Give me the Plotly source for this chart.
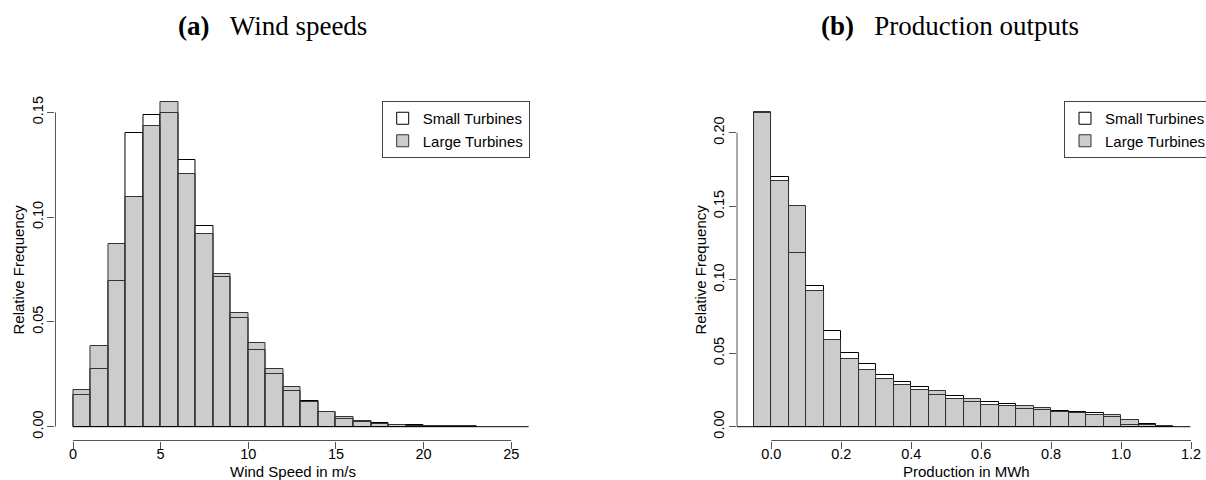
import plotly.graph_objects as go

W, H = 1206, 480

# ---------------- data ----------------
wind_bin_left = [0, 1, 2, 3, 4, 5, 6, 7, 8, 9, 10, 11, 12, 13, 14, 15, 16, 17, 18, 19, 20, 21, 22]
wind_bin_width = 1.0
wind_small = [0.0151, 0.0277, 0.0693, 0.1400, 0.1487, 0.1495, 0.1274, 0.0959, 0.0713, 0.0519, 0.0367,
              0.0251, 0.0169, 0.0121, 0.0072, 0.0035, 0.0021, 0.0016, 0.0010, 0.0006, 0.0004, 0.0003, 0.0002]
wind_large = [0.0175, 0.0387, 0.0872, 0.1098, 0.1433, 0.1551, 0.1204, 0.0918, 0.0727, 0.0541, 0.0399,
              0.0277, 0.0188, 0.0118, 0.0070, 0.0045, 0.0027, 0.0013, 0.0008, 0.0005, 0.0004, 0.0003, 0.0001]
wind_xticks = [0, 5, 10, 15, 20, 25]
wind_xtick_text = ["0", "5", "10", "15", "20", "25"]
wind_yticks = [0.0, 0.05, 0.10, 0.15]
wind_ytick_text = ["0.00", "0.05", "0.10", "0.15"]

prod_bin_left = [-0.05, 0.00, 0.05, 0.10, 0.15, 0.20, 0.25, 0.30, 0.35, 0.40, 0.45, 0.50,
                 0.55, 0.60, 0.65, 0.70, 0.75, 0.80, 0.85, 0.90, 0.95, 1.00, 1.05, 1.10]
prod_bin_width = 0.05
prod_small = [0.2132, 0.1701, 0.1179, 0.0955, 0.0653, 0.0503, 0.0424, 0.0354, 0.0302, 0.0270, 0.0215, 0.0209,
              0.0170, 0.0166, 0.0152, 0.0120, 0.0113, 0.0109, 0.0098, 0.0093, 0.0068, 0.0014, 0.0016, 0.0001]
prod_large = [0.2138, 0.1673, 0.1503, 0.0921, 0.0587, 0.0463, 0.0383, 0.0324, 0.0286, 0.0249, 0.0240, 0.0186,
              0.0188, 0.0147, 0.0138, 0.0138, 0.0127, 0.0102, 0.0091, 0.0077, 0.0077, 0.0043, 0.0012, 0.0004]
prod_xticks = [0.0, 0.2, 0.4, 0.6, 0.8, 1.0, 1.2]
prod_xtick_text = ["0.0", "0.2", "0.4", "0.6", "0.8", "1.0", "1.2"]
prod_yticks = [0.0, 0.05, 0.10, 0.15, 0.20]
prod_ytick_text = ["0.00", "0.05", "0.10", "0.15", "0.20"]

series_names = ["Small Turbines", "Large Turbines"]
titles = ["<b>(a)</b>\u00a0\u00a0\u00a0Wind speeds", "<b>(b)</b>\u00a0\u00a0\u00a0Production outputs"]
xlabels = ["Wind Speed in m/s", "Production in MWh"]
ylabel = "Relative Frequency"

# ---------------- layout constants (pixels) ----------------
SANS = "Liberation Sans, Arial, sans-serif"
SERIF = "Liberation Serif, Times New Roman, serif"
AXC = "#555555"
TICK_SIZE = 14.5

def px_x(p):
    return p / W

def px_y(p):
    return 1 - p / H

plot_top_px, plot_bot_px, zero_px = 95.0, 440.5, 426.7
# left panel
L_x0, L_xscale = 73.0, 17.53          # pixel of x=0, px per unit
L_yscale = (426.7 - 112.3) / 0.15
L_xrange = [-1.0, 26.0]
# right panel
R_x0, R_xscale = 771.3, 349.75
R_yscale = (426.7 - 132.7) / 0.20
R_xrange = [-0.098, 1.2005]

def yr(scale):
    return [(zero_px - plot_bot_px) / scale, (zero_px - plot_top_px) / scale]

fig = go.Figure()

def add_hist(bin_left, width, small, large, xa, ya, legend):
    centers = [b + width / 2 for b in bin_left]
    fig.add_trace(go.Bar(x=centers, y=small, width=width, name=series_names[0],
                         marker=dict(color="white", line=dict(color="black", width=1)),
                         xaxis=xa, yaxis=ya, legend=legend))
    fig.add_trace(go.Bar(x=centers, y=large, width=width, name=series_names[1],
                         marker=dict(color="rgba(128,128,128,0.4)", line=dict(color="#333333", width=1)),
                         xaxis=xa, yaxis=ya, legend=legend))

add_hist(wind_bin_left, wind_bin_width, wind_small, wind_large, "x", "y", "legend")
add_hist(prod_bin_left, prod_bin_width, prod_small, prod_large, "x2", "y2", "legend2")

def xaxis(domain, rng, tv, tt, anchor):
    return dict(domain=domain, range=rng, tickvals=tv, ticktext=tt, ticks="outside", ticklen=7,
                tickcolor=AXC, tickwidth=1, showline=False, showgrid=False, zeroline=False,
                ticklabelstandoff=-7,
                tickfont=dict(family=SANS, size=TICK_SIZE, color="black"), anchor=anchor, fixedrange=True)

def yaxis(domain, rng, tv, tt, anchor):
    return dict(domain=domain, range=rng, tickvals=tv, ticktext=tt, ticks="outside", ticklen=7,
                tickcolor=AXC, tickwidth=1, showline=False, showgrid=False, zeroline=False,
                ticklabelstandoff=-1,
                tickangle=-90, tickfont=dict(family=SANS, size=TICK_SIZE, color="black"), anchor=anchor,
                fixedrange=True)

L_dom = [px_x(L_x0 + L_xrange[0] * L_xscale), px_x(L_x0 + L_xrange[1] * L_xscale)]
R_dom = [px_x(R_x0 + R_xrange[0] * R_xscale), px_x(R_x0 + R_xrange[1] * R_xscale)]
Y_dom = [px_y(plot_bot_px), px_y(plot_top_px)]

shapes = []
def axis_lines(xref, yref, xticks, yticks, base_x0, base_x1):
    # x axis line
    shapes.append(dict(type="line", xref=xref, yref=yref + " domain", x0=xticks[0], x1=xticks[-1],
                       y0=0, y1=0, line=dict(color=AXC, width=1)))
    # y axis line
    shapes.append(dict(type="line", xref=xref + " domain", yref=yref, x0=0, x1=0,
                       y0=yticks[0], y1=yticks[-1], line=dict(color=AXC, width=1)))
    # histogram baseline
    shapes.append(dict(type="line", xref=xref, yref=yref, x0=base_x0, x1=base_x1, y0=0, y1=0,
                       line=dict(color="black", width=1), layer="above"))

axis_lines("x", "y", wind_xticks, wind_yticks, 0, L_xrange[1])
axis_lines("x2", "y2", prod_xticks, prod_yticks, R_xrange[0], 1.198)

annotations = []
# titles
annotations.append(dict(text=titles[0], x=px_x(272.5), y=px_y(26.5), xref="paper", yref="paper",
                        showarrow=False, xanchor="center", yanchor="middle",
                        font=dict(family=SERIF, size=27, color="black")))
annotations.append(dict(text=titles[1], x=px_x(950), y=px_y(26.5), xref="paper", yref="paper",
                        showarrow=False, xanchor="center", yanchor="middle",
                        font=dict(family=SERIF, size=27, color="black")))
# x axis titles
annotations.append(dict(text=xlabels[0], x=px_x(293), y=px_y(471.5), xref="paper", yref="paper",
                        showarrow=False, xanchor="center", yanchor="middle",
                        font=dict(family=SANS, size=15, color="black")))
annotations.append(dict(text=xlabels[1], x=px_x(966), y=px_y(471.5), xref="paper", yref="paper",
                        showarrow=False, xanchor="center", yanchor="middle",
                        font=dict(family=SANS, size=15, color="black")))
# y axis titles
for xc in (17.5, 699.5):
    annotations.append(dict(text=ylabel, x=px_x(xc), y=px_y(270), xref="paper", yref="paper",
                            showarrow=False, xanchor="center", yanchor="middle", textangle=-90,
                            font=dict(family=SANS, size=15, color="black")))

legend_style = dict(xanchor="left", yanchor="top", bgcolor="white", bordercolor="#444444", borderwidth=1,
                    font=dict(family=SANS, size=15, color="black"), tracegroupgap=0)

fig.update_layout(
    width=W, height=H,
    margin=dict(l=0, r=0, t=0, b=0, pad=0, autoexpand=False),
    paper_bgcolor="white", plot_bgcolor="white",
    barmode="overlay", bargap=0,
    xaxis=xaxis(L_dom, L_xrange, wind_xticks, wind_xtick_text, "y"),
    yaxis=yaxis(Y_dom, yr(L_yscale), wind_yticks, wind_ytick_text, "x"),
    xaxis2=xaxis(R_dom, R_xrange, prod_xticks, prod_xtick_text, "y2"),
    yaxis2=yaxis(Y_dom, yr(R_yscale), prod_yticks, prod_ytick_text, "x2"),
    legend=dict(x=px_x(381.7), y=px_y(101), **legend_style),
    legend2=dict(x=px_x(1064), y=px_y(101), **legend_style),
    shapes=shapes,
    annotations=annotations,
    showlegend=True,
)

fig.write_html("out.html", config=dict(displayModeBar=False))
